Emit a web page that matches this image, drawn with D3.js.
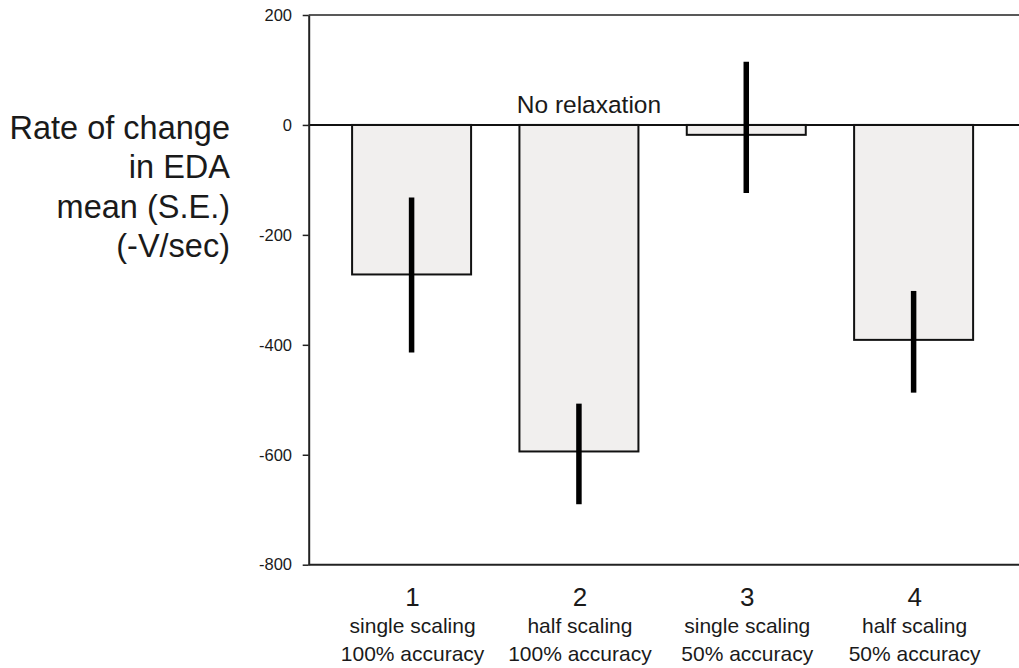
<!DOCTYPE html>
<html>
<head>
<meta charset="utf-8">
<script src="https://cdn.jsdelivr.net/npm/d3@7"></script>
<style>
  html, body { margin: 0; padding: 0; background: #fff; }
  svg { display: block; font-family: "Liberation Sans", Arial, Helvetica, sans-serif; }
</style>
</head>
<body>
<svg id="chart" width="1019" height="668"></svg>
<script>
// ---- data ----
const categories = ["1", "2", "3", "4"];
const labelLine1 = ["single scaling", "half scaling", "single scaling", "half scaling"];
const labelLine2 = ["100% accuracy", "100% accuracy", "50% accuracy", "50% accuracy"];
const means = [-272, -594, -18, -391];
const seLow = [-414, -690, -124, -487];
const seHigh = [-132, -507, 115, -302];
const yTicks = [200, 0, -200, -400, -600, -800];
const titleLines = ["Rate of change", "in EDA", "mean (S.E.)", "(-V/sec)"];
const annotation = "No relaxation";

// ---- layout ----
const svg = d3.select("#chart");
const plotLeft = 308.7, plotRight = 1019, plotTop = 15, plotBottom = 564.7;
const textColor = "#1a1a1a";

const y = d3.scaleLinear().domain([-800, 200]).range([plotBottom, plotTop]);
const x = d3.scaleBand().domain(categories)
  .range([plotLeft, 1016.5]).paddingInner(0.2889).paddingOuter(0.2593);

// bars
svg.append("g").selectAll("rect").data(categories).join("rect")
  .attr("x", d => x(d))
  .attr("width", x.bandwidth())
  .attr("y", (d, i) => y(Math.max(0, means[i])))
  .attr("height", (d, i) => Math.abs(y(means[i]) - y(0)))
  .attr("fill", "#f1efee")
  .attr("stroke", "#111")
  .attr("stroke-width", 2);

// frame lines: top, zero, bottom
svg.append("line").attr("x1", plotLeft).attr("x2", plotRight).attr("y1", y(200)).attr("y2", y(200))
  .attr("stroke", "#222").attr("stroke-width", 1.5);
svg.append("line").attr("x1", plotLeft).attr("x2", plotRight).attr("y1", y(0)).attr("y2", y(0))
  .attr("stroke", "#111").attr("stroke-width", 2);
svg.append("line").attr("x1", plotLeft).attr("x2", plotRight).attr("y1", y(-800)).attr("y2", y(-800))
  .attr("stroke", "#222").attr("stroke-width", 2);

// error bars
svg.append("g").selectAll("line").data(categories).join("line")
  .attr("x1", d => x(d) + x.bandwidth() / 2)
  .attr("x2", d => x(d) + x.bandwidth() / 2)
  .attr("y1", (d, i) => y(seHigh[i]))
  .attr("y2", (d, i) => y(seLow[i]))
  .attr("stroke", "#000")
  .attr("stroke-width", 5.5);

// y axis
const yAxis = d3.axisLeft(y).tickValues(yTicks).tickSize(6).tickSizeOuter(0).tickPadding(10.7)
  .tickFormat(d => String(d));
const gy = svg.append("g").attr("transform", `translate(${plotLeft},0)`).call(yAxis);
gy.select(".domain").attr("stroke", "#222").attr("stroke-width", 2);
gy.selectAll(".tick line").attr("stroke", "#222").attr("stroke-width", 1.5);
gy.selectAll(".tick text").attr("fill", textColor)
  .style("font-size", "16.5px").style("font-family", "'Liberation Sans', Arial, sans-serif");

// x labels
const xl = svg.append("g");
xl.selectAll("text.num").data(categories).join("text").attr("class", "num")
  .attr("x", d => x(d) + x.bandwidth() / 2 + 1).attr("y", 605.5)
  .attr("text-anchor", "middle").attr("fill", textColor).style("font-size", "26px")
  .text(d => d);
xl.selectAll("text.l1").data(categories).join("text").attr("class", "l1")
  .attr("x", d => x(d) + x.bandwidth() / 2 + 1).attr("y", 633)
  .attr("text-anchor", "middle").attr("fill", textColor).style("font-size", "21px")
  .text((d, i) => labelLine1[i]);
xl.selectAll("text.l2").data(categories).join("text").attr("class", "l2")
  .attr("x", d => x(d) + x.bandwidth() / 2 + 1).attr("y", 661)
  .attr("text-anchor", "middle").attr("fill", textColor).style("font-size", "21px")
  .text((d, i) => labelLine2[i]);

// y title
svg.append("g").selectAll("text").data(titleLines).join("text")
  .attr("x", 230).attr("y", (d, i) => 139 + i * 39.3)
  .attr("text-anchor", "end").attr("fill", textColor).style("font-size", "32.5px")
  .text(d => d);

// annotation
svg.append("text")
  .attr("x", x("2") + x.bandwidth() / 2 + 10).attr("y", 113)
  .attr("text-anchor", "middle").attr("fill", textColor).style("font-size", "24.5px")
  .text(annotation);
</script>
</body>
</html>
